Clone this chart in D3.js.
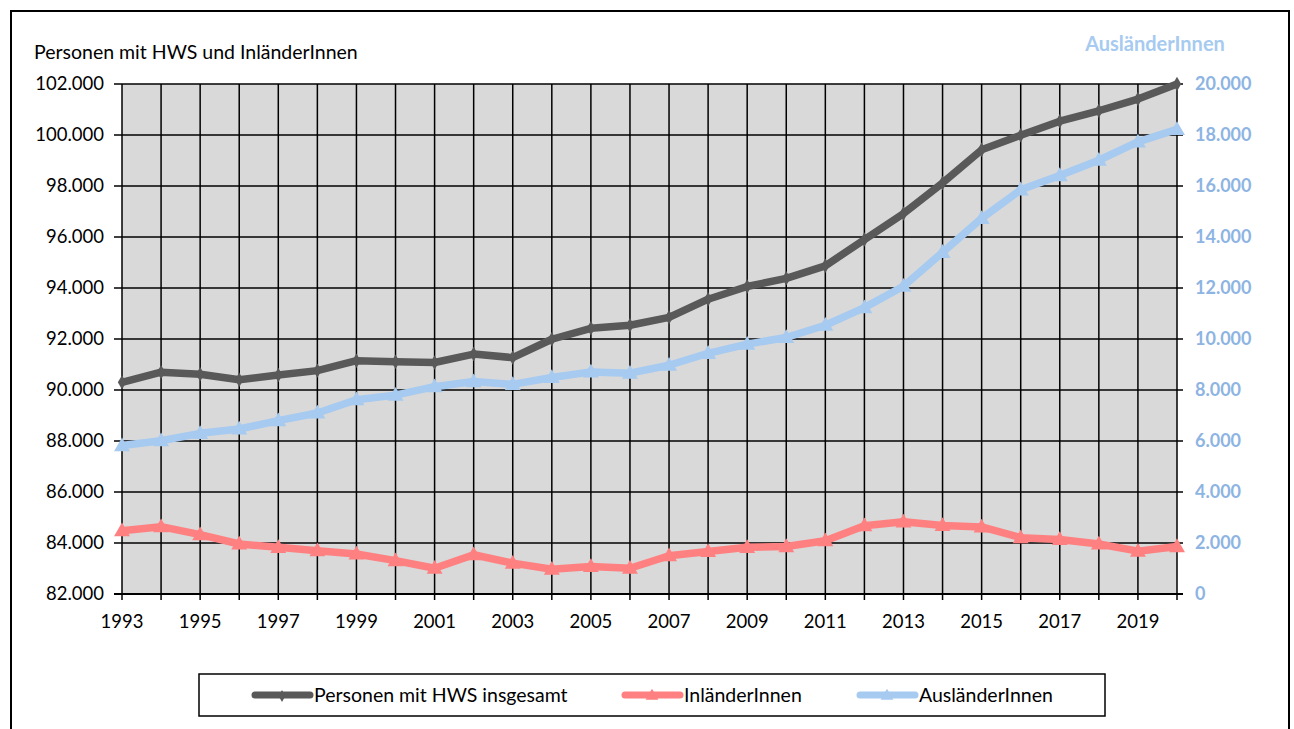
<!DOCTYPE html>
<html><head><meta charset="utf-8">
<script src="https://cdn.jsdelivr.net/npm/d3@7"></script>
<style>body{margin:0;background:#fff}svg{display:block}text{font-family:Lato,"Open Sans",sans-serif}</style>
</head><body>
<svg id="c" width="1294" height="729"></svg>
<script>
const years = d3.range(1993, 2021);
const gesamt = [90300,90700,90620,90400,90590,90760,91150,91110,91080,91410,91270,91990,92420,92540,92850,93560,94060,94380,94870,95900,96920,98120,99420,99990,100540,100950,101410,102000];
const inlaender = [84480,84640,84330,83960,83830,83700,83570,83310,83010,83540,83210,82970,83080,83010,83500,83670,83830,83860,84090,84680,84830,84690,84630,84210,84140,83960,83680,83860];
const auslaender = [5820,6010,6300,6470,6800,7100,7620,7800,8130,8330,8220,8490,8710,8660,8970,9440,9800,10060,10540,11230,12070,13400,14730,15850,16410,17010,17730,18220];
const leftTicks = d3.range(82000, 102001, 2000);
const rightTicks = d3.range(0, 20001, 2000);
const xLabelYears = years.filter(y => (y - 1993) % 2 === 0);
const leftTitle = "Personen mit HWS und InländerInnen";
const rightTitle = "AusländerInnen";
const seriesNames = ["Personen mit HWS insgesamt", "InländerInnen", "AusländerInnen"];
const colors = ["#595959", "#ff8080", "#a6caf0"];

const svg = d3.select("#c");
const L = 122, R = 1177, T = 84, B = 594;
const x = d3.scaleLinear().domain([1993, 2020]).range([L, R]);
const yL = d3.scaleLinear().domain([82000, 102000]).range([B, T]);
const yR = d3.scaleLinear().domain([0, 20000]).range([B, T]);
const fmt = v => d3.format(",")(v).replace(/,/g, ".");

// outer border
svg.append("rect").attr("x", 11).attr("y", 11).attr("width", 1278).attr("height", 730)
  .attr("fill", "none").attr("stroke", "#000").attr("stroke-width", 2);

// plot bg
svg.append("rect").attr("x", L).attr("y", T).attr("width", R - L).attr("height", B - T).attr("fill", "#d9d9d9");

// gridlines
const g = svg.append("g").attr("stroke", "#000").attr("stroke-width", 1.5);
years.forEach(yr => g.append("line").attr("x1", x(yr)).attr("x2", x(yr)).attr("y1", T).attr("y2", B + 6));
leftTicks.forEach(v => g.append("line").attr("x1", L - 8).attr("x2", R + 6).attr("y1", yL(v)).attr("y2", yL(v)));
g.append("line").attr("x1", L - 8).attr("x2", R + 6).attr("y1", B).attr("y2", B).attr("stroke-width", 2);

// left axis labels
svg.append("g").selectAll("text").data(leftTicks).join("text")
  .attr("x", 104).attr("y", d => yL(d)).attr("dy", "0.35em").attr("text-anchor", "end")
  .attr("font-size", 18.5).attr("fill", "#000").text(fmt);
// right axis labels
svg.append("g").selectAll("text").data(rightTicks).join("text")
  .attr("x", 1195).attr("y", d => yR(d)).attr("dy", "0.35em").attr("text-anchor", "start")
  .attr("font-size", 18).attr("font-weight", "bold").attr("fill", "#8db4e2").text(fmt);
// x labels
svg.append("g").selectAll("text").data(xLabelYears).join("text")
  .attr("x", d => x(d)).attr("y", 622).attr("dy", "0.35em").attr("text-anchor", "middle")
  .attr("font-size", 18.5).attr("fill", "#000").text(d => d);

// titles
svg.append("text").attr("x", 34).attr("y", 52).attr("dy", "0.35em").attr("font-size", 19.5).text(leftTitle);
svg.append("text").attr("x", 1155).attr("y", 44).attr("dy", "0.35em").attr("text-anchor", "middle")
  .attr("font-size", 20).attr("font-weight", "bold").attr("fill", "#a6caf0").text(rightTitle);

// series
const data = [
  {vals: gesamt, y: yL, c: colors[0], m: "diamond"},
  {vals: inlaender, y: yL, c: colors[1], m: "triangle"},
  {vals: auslaender, y: yR, c: colors[2], m: "triangle"}
];
data.forEach(s => {
  const line = d3.line().x((d, i) => x(years[i])).y(d => s.y(d));
  svg.append("path").attr("d", line(s.vals)).attr("fill", "none").attr("stroke", s.c)
    .attr("stroke-width", 7.5).attr("stroke-linejoin", "round");
  const sym = s.m === "diamond" ? d3.symbol(d3.symbolDiamond, 60) : d3.symbol(d3.symbolTriangle, 110);
  svg.append("g").selectAll("path").data(s.vals).join("path")
    .attr("d", sym).attr("fill", s.c)
    .attr("transform", (d, i) => `translate(${x(years[i])},${s.y(d) + (s.m === "triangle" ? 1 : 0)})`);
});

// legend
svg.append("rect").attr("x", 199).attr("y", 674).attr("width", 906).attr("height", 42)
  .attr("fill", "#fff").attr("stroke", "#000").attr("stroke-width", 1.5);
const legX = [252, 622, 857];
seriesNames.forEach((n, i) => {
  const lg = svg.append("g");
  lg.append("line").attr("x1", legX[i] + 3).attr("x2", legX[i] + 58).attr("y1", 695).attr("y2", 695)
    .attr("stroke", colors[i]).attr("stroke-width", 7).attr("stroke-linecap", "round");
  const sym = i === 0 ? d3.symbol(d3.symbolDiamond, 40) : d3.symbol(d3.symbolTriangle, 70);
  lg.append("path").attr("d", sym).attr("fill", colors[i]).attr("transform", `translate(${legX[i] + 30},696)`);
  lg.append("text").attr("x", legX[i] + 62).attr("y", 695).attr("dy", "0.35em").attr("font-size", 19.5).text(n);
});
</script>
</body></html>
